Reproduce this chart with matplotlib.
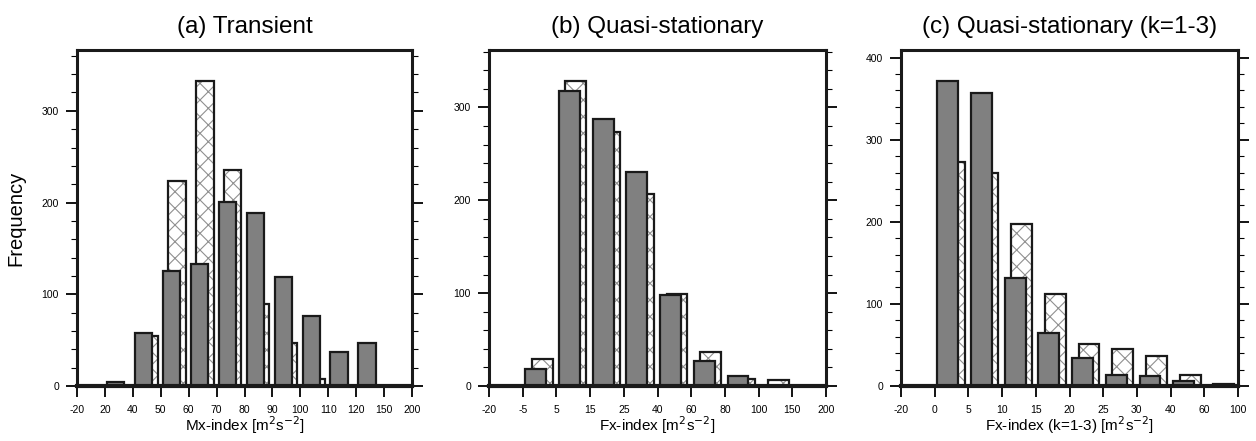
"""
Three-panel frequency histograms (transient / quasi-stationary), NCL look.
"""

import matplotlib
matplotlib.use("Agg")
import matplotlib.pyplot as plt
from matplotlib.ticker import MultipleLocator

plt.rcParams["font.family"] = ["Liberation Sans", "DejaVu Sans"]
plt.rcParams["hatch.linewidth"] = 0.8

# bin edges used as x tick labels
edges_a = ["-20", "20", "40", "50", "60", "70", "80", "90", "100", "110", "120", "150", "200"]
edges_b = ["-20", "-5", "5", "15", "25", "40", "60", "80", "100", "150", "200"]
edges_c = ["-20", "0", "5", "10", "15", "20", "25", "30", "40", "60", "100"]

# frequencies per bin: solid (grey) and hatched series
solid_a = [0, 4, 58, 125, 133, 201, 189, 119, 76, 37, 47, 0]
hatch_a = [0, 0, 55, 223, 333, 235, 89, 47, 8, 0, 0, 0]
solid_b = [0, 18, 318, 288, 230, 98, 27, 11, 0, 0]
hatch_b = [0, 29, 329, 274, 207, 99, 37, 8, 6, 0]
solid_c = [0, 372, 357, 132, 64, 34, 13, 12, 6, 0]
hatch_c = [0, 273, 259, 197, 112, 51, 45, 37, 14, 2]

titles = ["(a) Transient", "(b) Quasi-stationary", "(c) Quasi-stationary (k=1-3)"]
xlabels = [
    r"Mx-index [m$^2$s$^{-2}$]",
    r"Fx-index [m$^2$s$^{-2}$]",
    r"Fx-index (k=1-3) [m$^2$s$^{-2}$]",
]

W, H = 1256, 441
boxes = [(77, 412), (489, 826), (901, 1238)]
top_px, bot_px = 50, 386

fig = plt.figure(figsize=(W / 100, H / 100), dpi=100)

panels = [
    (edges_a, solid_a, hatch_a),
    (edges_b, solid_b, hatch_b),
    (edges_c, solid_c, hatch_c),
]

for k, (edges, solid, hatched) in enumerate(panels):
    x0, x1 = boxes[k]
    ax = fig.add_axes([x0 / W, 1 - bot_px / H, (x1 - x0) / W, (bot_px - top_px) / H])
    n = len(solid)
    pos = list(range(n))

    # hatched bars behind
    ax.bar([p + 0.27 for p in pos], hatched, width=0.62, align="edge",
           facecolor="white", edgecolor="#909090", hatch="xx", linewidth=0, zorder=2)
    ax.bar([p + 0.27 for p in pos], hatched, width=0.62, align="edge",
           fill=False, edgecolor="#1a1a1a", linewidth=1.6, zorder=3)
    # grey bars in front
    ax.bar([p + 0.08 for p in pos], solid, width=0.62, align="edge",
           facecolor="#808080", edgecolor="#1a1a1a", linewidth=1.6, zorder=4)

    ymax = max(max(solid), max(hatched)) * 1.1
    ax.set_xlim(0, n)
    ax.set_ylim(0, ymax)
    ax.set_xticks(range(n + 1))
    ax.set_xticklabels(edges, fontsize=7.5)
    ax.yaxis.set_major_locator(MultipleLocator(100))
    ax.yaxis.set_minor_locator(MultipleLocator(20))
    ax.tick_params(axis="y", which="major", direction="out", length=8, width=1.3,
                   labelsize=7.5, pad=5, right=True)
    ax.tick_params(axis="y", which="minor", direction="out", length=4, width=0.8, right=True)
    ax.tick_params(axis="x", which="major", direction="out", length=8, width=1.3, pad=6)

    for side in ["left", "right", "top"]:
        ax.spines[side].set_linewidth(2.2)
    ax.spines["bottom"].set_linewidth(3.0)
    for s in ax.spines.values():
        s.set_color("#1a1a1a")
        s.set_zorder(5)

    ax.set_title(titles[k], fontsize=17.5, pad=12)
    ax.set_xlabel(xlabels[k], fontsize=11, labelpad=-1)
    if k == 0:
        ax.set_ylabel("Frequency", fontsize=14.5, labelpad=12)

fig.savefig("out.png", dpi=100)
